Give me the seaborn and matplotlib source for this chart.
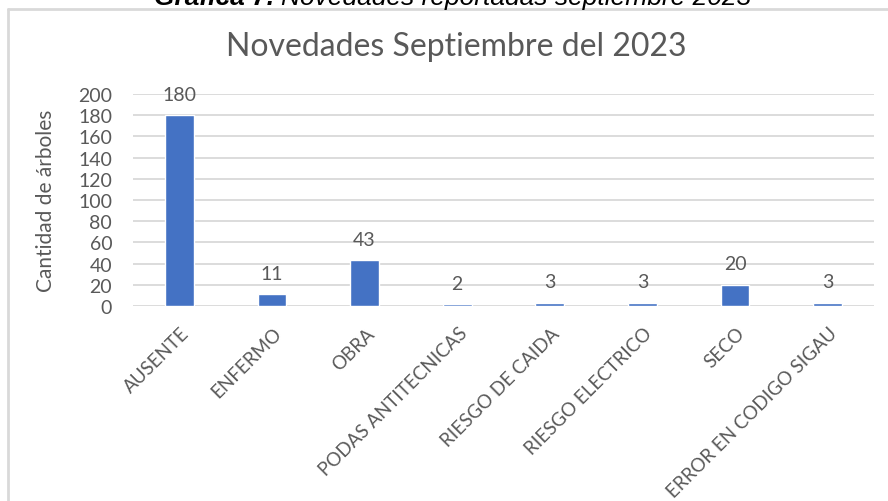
import numpy as np
import pandas as pd
import matplotlib
matplotlib.use("Agg")
import matplotlib.pyplot as plt
import matplotlib.transforms as mtransforms
from matplotlib.lines import Line2D
import seaborn as sns

# data
categorias = ["AUSENTE", "ENFERMO", "OBRA", "PODAS ANTITECNICAS", "RIESGO DE CAIDA",
              "RIESGO ELECTRICO", "SECO", "ERROR EN CODIGO SIGAU"]
cantidades = [180, 11, 43, 2, 3, 3, 20, 3]
y_ticks = [0, 20, 40, 60, 80, 100, 120, 140, 160, 180, 200]

sns.set_style("white")
plt.rcParams["font.family"] = ["Lato", "DejaVu Sans"]

GRAY = "#595959"
GRID = "#d9d9d9"
BLUE = "#4472C4"
W, H = 888, 502

df = pd.DataFrame({"Novedad": categorias, "Cantidad": cantidades})

fig = plt.figure(figsize=(W / 100, H / 100), dpi=100)
ax = fig.add_axes([133 / W, 1 - 307 / H, (874 - 133) / W, (307 - 95) / H])

sns.barplot(data=df, x="Novedad", y="Cantidad", color=BLUE, width=0.31,
            saturation=1, ax=ax, zorder=3)

ax.set_ylim(0, 200)
ax.set_yticks(y_ticks)
ax.grid(axis="y", color=GRID, linewidth=1.3, zorder=0)
ax.set_axisbelow(True)
for s in ax.spines.values():
    s.set_visible(False)
ax.tick_params(axis="both", length=0)
ax.tick_params(axis="y", pad=15, labelsize=14, labelcolor=GRAY)
ax.tick_params(axis="x", pad=13, labelsize=13.5, labelcolor=GRAY)

ax.set_xticks(range(len(categorias)))
ax.set_xticklabels(categorias, rotation=45, ha="right", va="top", rotation_mode="anchor")
shift = mtransforms.ScaledTranslation(1 / 100, 0, fig.dpi_scale_trans)
for lab in ax.get_xticklabels():
    lab.set_transform(lab.get_transform() + shift)

ax.set_xlabel("")
ax.set_ylabel("Cantidad de árboles", fontsize=15, color=GRAY)
ax.yaxis.set_label_coords(-(133 - 56) / (874 - 133), 0.5)

# data labels
for i, v in enumerate(cantidades):
    ax.annotate(str(v), (i, v), xytext=(0, 15), textcoords="offset points",
                ha="center", va="center", fontsize=14, color=GRAY)

# chart title
fig.text(456 / W, 1 - 47 / H, "Novedades Septiembre del 2023", ha="center", va="center",
         fontsize=23, color=GRAY)

# caption above the chart box (cut off at the top, as in the source)
cap_y = 1 - 5 / H
fig.text(274 / W, cap_y, "Gráfica 7.", ha="right", va="baseline", fontsize=19,
         fontweight="bold", fontstyle="italic", color="black", family="Liberation Sans")
fig.text(281 / W, cap_y, "Novedades reportadas septiembre 2023", ha="left", va="baseline",
         fontsize=19, fontstyle="italic", color="black", family="Liberation Sans")

# chart box border
fig.add_artist(Line2D([8 / W, 1.0], [1 - 10 / H, 1 - 10 / H], transform=fig.transFigure,
                      color=GRID, linewidth=2))
fig.add_artist(Line2D([8 / W, 8 / W], [0, 1 - 10 / H], transform=fig.transFigure,
                      color=GRID, linewidth=2))

fig.savefig("out.png", dpi=100)
